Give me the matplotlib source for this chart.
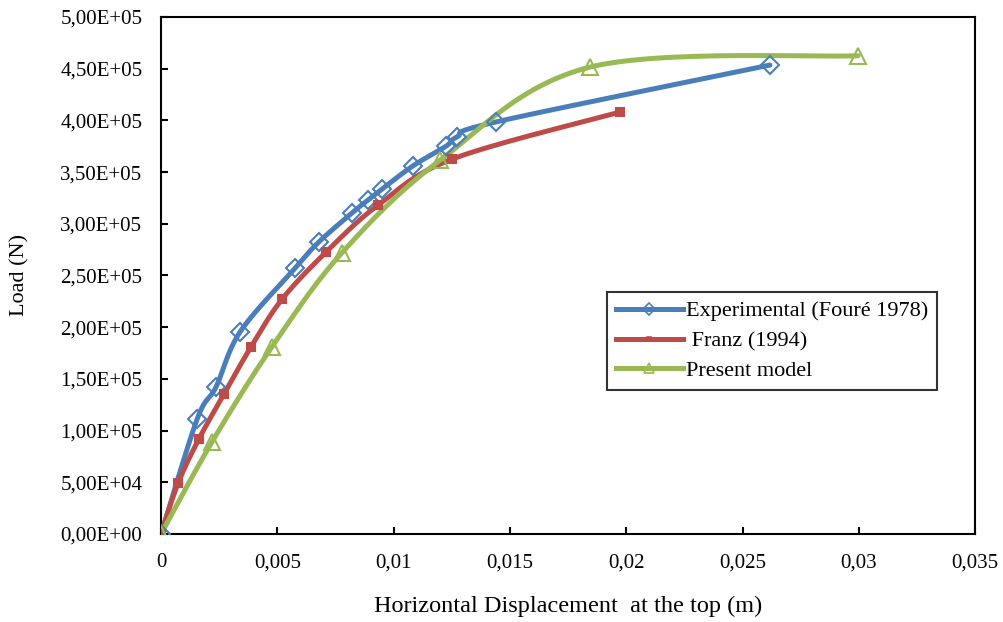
import numpy as np
import matplotlib
matplotlib.use("Agg")
import matplotlib.pyplot as plt
from matplotlib.ticker import FuncFormatter, MultipleLocator

plt.rcParams['font.family'] = ['Liberation Serif', 'DejaVu Serif']

# ---- data ----
exp_x = [0.0, 0.00155, 0.00236, 0.00340, 0.00576, 0.00679, 0.00821, 0.00890,
         0.00950, 0.01083, 0.01225, 0.01273, 0.01440, 0.02618]
exp_y = [0, 111000, 142000, 195500, 257000, 282500, 310500, 323000,
         333500, 356000, 375000, 384000, 398500, 453500]

franz_x = [0.0, 0.00073, 0.00163, 0.00271, 0.00387, 0.00520, 0.00709,
           0.00933, 0.01251, 0.01973]
franz_y = [0, 49000, 92000, 135500, 181000, 227000, 272500, 318000,
           362500, 408000]

model_x = [0.0, 0.00219, 0.00477, 0.00778, 0.01200, 0.01844, 0.02997]
model_y = [0, 89000, 181000, 272000, 361500, 451500, 462500]

labels = ["Experimental (Fouré 1978)", " Franz (1994)", "Present model"]
colors = ["#4A7EBB", "#BE4B48", "#98B954"]

x_ticks = [0, 0.005, 0.01, 0.015, 0.02, 0.025, 0.03, 0.035]


def smooth(xs, ys, n=30):
    """Excel-like smoothed line (Catmull-Rom Bezier)."""
    p = np.column_stack([xs, ys]).astype(float)
    out = [p[0]]
    m = len(p)
    for i in range(m - 1):
        p0 = p[i - 1] if i > 0 else p[i]
        p1 = p[i]
        p2 = p[i + 1]
        p3 = p[i + 2] if i + 2 < m else p[i + 1]
        c1 = p1 + (p2 - p0) / 6.0
        c2 = p2 - (p3 - p1) / 6.0
        t = np.linspace(0, 1, n)[1:, None]
        seg = ((1 - t) ** 3) * p1 + 3 * ((1 - t) ** 2) * t * c1 + 3 * (1 - t) * t ** 2 * c2 + t ** 3 * p2
        out.extend(seg)
    out = np.array(out)
    return out[:, 0], out[:, 1]


fig = plt.figure(figsize=(10.04, 6.22), dpi=100)
ax = fig.add_axes([0.1604, 0.1415, 0.8108, 0.8312])

series = [
    (exp_x, exp_y, 'D', 9.5, 'none'),
    (franz_x, franz_y, 's', 6, None),
    (model_x, model_y, '^', 12, 'none'),
]
handles = []
for (xs, ys, mk, ms, fc), lab, col in zip(series, labels, colors):
    sx, sy = smooth(xs, ys)
    ax.plot(sx, sy, color=col, lw=3.6, solid_capstyle='round', zorder=2)
    ax.plot(xs, ys, linestyle='none', marker=mk, markersize=ms,
            markerfacecolor=(fc if fc else col), markeredgecolor=col,
            markeredgewidth=1.5, zorder=3)
    h, = ax.plot([], [], color=col, lw=3.6, marker=mk, markersize=ms * 0.6,
                 markerfacecolor=(fc if fc else col), markeredgecolor=col,
                 markeredgewidth=1.2, label=lab)
    handles.append(h)

ax.set_xlim(0, 0.035)
ax.set_ylim(0, 500000)
ax.set_xticks(x_ticks)
ax.yaxis.set_major_locator(MultipleLocator(50000))


def yfmt(v, pos):
    return ("%.2E" % v).replace('.', ',')


def xfmt(v, pos):
    s = ("%.3f" % v).rstrip('0').rstrip('.')
    if s == '':
        s = '0'
    return s.replace('.', ',')


ax.yaxis.set_major_formatter(FuncFormatter(yfmt))
ax.xaxis.set_major_formatter(FuncFormatter(xfmt))

ax.tick_params(direction='in', length=5, width=1.5, labelsize=15)
ax.tick_params(axis='y', pad=13.5)
ax.tick_params(axis='x', pad=14)
for s in ax.spines.values():
    s.set_linewidth(1.5)

ax.set_ylabel("Load (N)", fontsize=16, labelpad=22)
ax.set_xlabel("Horizontal Displacement  at the top (m)", fontsize=17.5, labelpad=17)

leg = ax.legend(handles=handles, loc='upper left', bbox_to_anchor=(0.548, 0.468),
                borderaxespad=0, fontsize=16, frameon=True, fancybox=False,
                handlelength=3.0, handletextpad=0.15, labelspacing=0.42,
                borderpad=0.4)
leg.get_frame().set_edgecolor('black')
leg.get_frame().set_linewidth(1.5)

fig.savefig("out.png", dpi=100)
